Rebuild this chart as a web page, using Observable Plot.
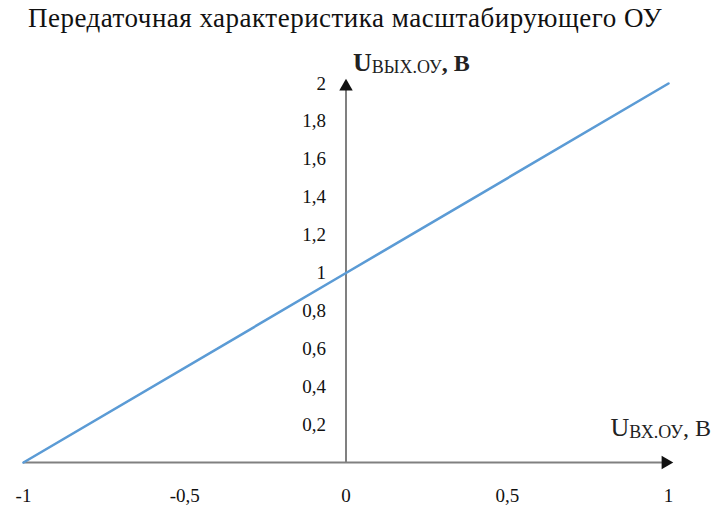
<!DOCTYPE html>
<html>
<head>
<meta charset="utf-8">
<script src="https://cdn.jsdelivr.net/npm/d3@7"></script>
<script src="https://cdn.jsdelivr.net/npm/@observablehq/plot@0.6"></script>
<style>
  body { margin: 0; background: #fff; }
  #wrap { position: relative; width: 723px; height: 517px; }
  #title { position: absolute; left: 0; top: 5px; width: 690px; text-align: center; line-height: 27px;
           font-family: "Liberation Serif", "Times New Roman", serif; font-size: 27px; letter-spacing: 0.5px; color: #111; }
  #chart { position: absolute; left: 0; top: 0; }
  #chart svg text { font-family: "Liberation Serif", "Times New Roman", serif; }
</style>
</head>
<body>
<div id="wrap">
  <div id="chart"></div>
  <div id="title">Передаточная характеристика масштабирующего ОУ</div>
</div>
<script>
// Data
const inputVoltage = [-1, 0, 1];          // U вх.ОУ, В
const outputVoltage = [0, 1, 2];          // U вых.ОУ, В
const xTicks = [-1, -0.5, 0, 0.5, 1];
const xTickLabels = ["-1", "-0,5", "0", "0,5", "1"];
const yTicks = [0.2, 0.4, 0.6, 0.8, 1, 1.2, 1.4, 1.6, 1.8, 2];
const yTickLabels = ["0,2", "0,4", "0,6", "0,8", "1", "1,2", "1,4", "1,6", "1,8", "2"];
const yLabelParts = ["U", "ВЫХ.ОУ", ", В"];
const xLabelParts = ["U", "ВХ.ОУ", ", В"];

const lineData = inputVoltage.map((x, i) => ({x, y: outputVoltage[i]}));
const xTickData = xTicks.map((v, i) => ({v, label: xTickLabels[i]}));
const yTickData = yTicks.map((v, i) => ({v, label: yTickLabels[i]}));

const serif = '"Liberation Serif", "Times New Roman", serif';
const axisColor = "#808080";

const plot = Plot.plot({
  width: 723,
  height: 517,
  marginTop: 83,
  marginBottom: 55,
  marginLeft: 23,
  marginRight: 55,
  x: {domain: [-1, 1], axis: null},
  y: {domain: [0, 2], axis: null},
  style: {fontFamily: serif, background: "white"},
  marks: [
    Plot.ruleY([0], {x1: -1, x2: 1, stroke: axisColor, strokeWidth: 2}),
    Plot.ruleX([0], {y1: 0, y2: 2, stroke: axisColor, strokeWidth: 2}),
    Plot.dot([{x: 1, y: 0}], {x: "x", y: "y", symbol: "triangle", r: 5, fill: "#111", stroke: "none", rotate: 90, dx: -3}),
    Plot.dot([{x: 0, y: 2}], {x: "x", y: "y", symbol: "triangle", r: 5, fill: "#111", stroke: "none", dy: 3}),
    Plot.line(lineData, {x: "x", y: "y", stroke: "#5B9BD5", strokeWidth: 2.6}),
    Plot.text(xTickData, {x: "v", y: () => 0, text: "label", dy: 33, fontSize: 19, fill: "#111"}),
    Plot.text(yTickData, {x: () => 0, y: "v", text: "label", dx: -20, textAnchor: "end", fontSize: 19, fill: "#111"}),
    Plot.text([yLabelParts.join("")], {x: () => 0, y: () => 2, text: d => d, dx: 7, dy: -13, textAnchor: "start", lineAnchor: "bottom", fontSize: 24, fill: "#222"}),
    Plot.text([xLabelParts.join("")], {x: () => 1, y: () => 0, text: d => d, dx: -58, dy: -27, textAnchor: "start", lineAnchor: "bottom", fontSize: 24, fill: "#222"})
  ]
});

document.getElementById("chart").appendChild(plot);

// Render axis labels with subscript parts
function subscriptify(parts, bold) {
  const full = parts.join("");
  d3.select(plot).selectAll("text").each(function() {
    if (this.textContent !== full) return;
    const t = d3.select(this);
    t.text(null);
    t.append("tspan").attr("font-size", 26).attr("font-weight", bold ? "bold" : null).text(parts[0]);
    t.append("tspan").attr("font-size", 18).attr("dy", 2).text(parts[1]);
    t.append("tspan").attr("font-size", 24).attr("dy", -2).attr("font-weight", bold ? "bold" : null).text(parts[2]);
  });
}
subscriptify(yLabelParts, true);
subscriptify(xLabelParts, false);
</script>
</body>
</html>
